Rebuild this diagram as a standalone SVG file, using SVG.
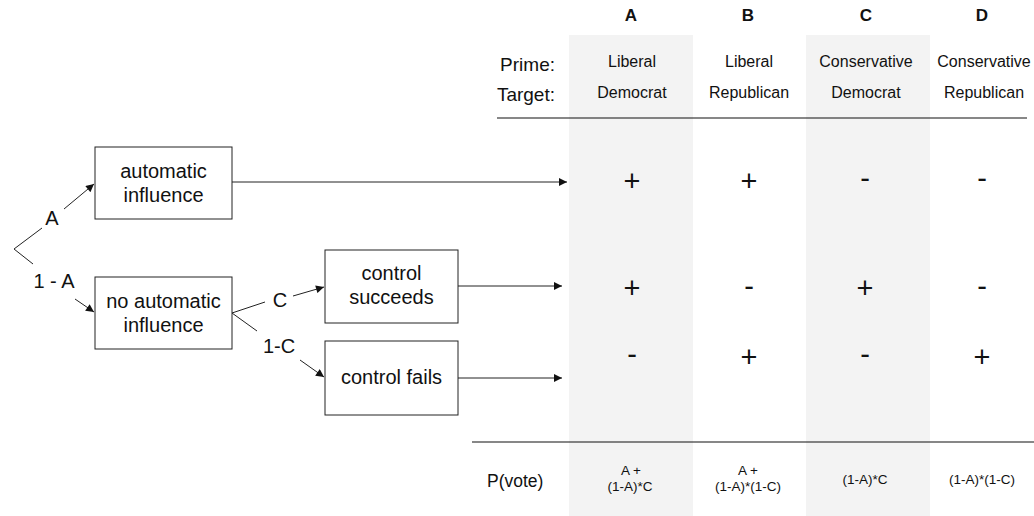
<svg xmlns="http://www.w3.org/2000/svg" width="1034" height="516" viewBox="0 0 1034 516">
  <defs>
    <style>
      text { font-family: "Liberation Sans", Arial, Helvetica, sans-serif; fill: #111; }
      .box { fill: #fff; stroke: #222; stroke-width: 1; }
      .node { font-size: 20px; text-anchor: middle; }
      .lbl { font-size: 20px; text-anchor: middle; }
      .hdr { font-size: 17px; font-weight: bold; text-anchor: middle; }
      .cat { font-size: 16px; text-anchor: middle; }
      .row { font-size: 19px; text-anchor: end; }
      .sign { font-size: 29px; text-anchor: middle; }
      .prob { font-size: 13.5px; text-anchor: middle; }
      .edge { stroke: #222; stroke-width: 1; fill: none; }
      .arrow { stroke: #222; stroke-width: 1; fill: none; marker-end: url(#head); }
      .band { fill: #f3f3f3; }
      .rule { stroke: #111; stroke-width: 1.2; }
    </style>
    <marker id="head" viewBox="0 0 10 10" refX="10" refY="5" markerWidth="11" markerHeight="8" markerUnits="userSpaceOnUse" orient="auto">
      <path d="M0,0 L10,5 L0,10 z" fill="#111"/>
    </marker>
  </defs>

  <rect width="1034" height="516" fill="#fff"/>

  <!-- shaded columns A and C -->
  <g id="bands">
    <rect class="band" x="569" y="35" width="124" height="481"/>
    <rect class="band" x="806" y="35" width="124" height="481"/>
  </g>

  <!-- table header -->
  <g id="header">
    <text class="hdr" x="631" y="21">A</text>
    <text class="hdr" x="748" y="21">B</text>
    <text class="hdr" x="866" y="21">C</text>
    <text class="hdr" x="982" y="21">D</text>
    <text class="row" x="555" y="71">Prime:</text>
    <text class="row" x="555" y="101">Target:</text>
    <text class="cat" x="632" y="67">Liberal</text>
    <text class="cat" x="749" y="67">Liberal</text>
    <text class="cat" x="866" y="67">Conservative</text>
    <text class="cat" x="984" y="67">Conservative</text>
    <text class="cat" x="632" y="98">Democrat</text>
    <text class="cat" x="749" y="98">Republican</text>
    <text class="cat" x="866" y="98">Democrat</text>
    <text class="cat" x="984" y="98">Republican</text>
    <line class="rule" x1="497" y1="118" x2="1027" y2="118"/>
  </g>

  <!-- outcome signs -->
  <g id="signs">
    <text class="sign" x="632" y="191">+</text>
    <text class="sign" x="749" y="191">+</text>
    <text class="sign" x="865" y="188">-</text>
    <text class="sign" x="982" y="188">-</text>
    <text class="sign" x="632" y="298">+</text>
    <text class="sign" x="749" y="296">-</text>
    <text class="sign" x="865" y="298">+</text>
    <text class="sign" x="982" y="296">-</text>
    <text class="sign" x="632" y="364">-</text>
    <text class="sign" x="749" y="367">+</text>
    <text class="sign" x="865" y="364">-</text>
    <text class="sign" x="982" y="367">+</text>
  </g>

  <!-- probabilities -->
  <g id="probabilities">
    <line class="rule" x1="472" y1="442" x2="1034" y2="442"/>
    <text x="487" y="487" style="font-size:17.5px">P(vote)</text>
    <text class="prob" x="631" y="475">A +</text>
    <text class="prob" x="630" y="491">(1-A)*C</text>
    <text class="prob" x="748" y="475">A +</text>
    <text class="prob" x="748" y="491">(1-A)*(1-C)</text>
    <text class="prob" x="865" y="484">(1-A)*C</text>
    <text class="prob" x="982" y="484">(1-A)*(1-C)</text>
  </g>

  <!-- tree nodes -->
  <g id="node-automatic">
    <rect class="box" x="95" y="147" width="137" height="72"/>
    <text class="node" x="163.5" y="178">automatic</text>
    <text class="node" x="163.5" y="202">influence</text>
  </g>
  <g id="node-no-automatic">
    <rect class="box" x="95" y="277" width="137" height="72"/>
    <text class="node" x="163.5" y="308">no automatic</text>
    <text class="node" x="163.5" y="332">influence</text>
  </g>
  <g id="node-succeeds">
    <rect class="box" x="325" y="250" width="133" height="73"/>
    <text class="node" x="391.5" y="280">control</text>
    <text class="node" x="391.5" y="304">succeeds</text>
  </g>
  <g id="node-fails">
    <rect class="box" x="325" y="341" width="133" height="74"/>
    <text class="node" x="391.5" y="384">control fails</text>
  </g>

  <!-- connectors -->
  <g id="connectors">
    <!-- root branch -->
    <polyline class="edge" points="42,228 14,249 33,264"/>
    <text class="lbl" x="52" y="225">A</text>
    <line class="arrow" x1="64" y1="209" x2="94" y2="184"/>
    <text class="lbl" x="54" y="288">1 - A</text>
    <line class="arrow" x1="75" y1="299" x2="94" y2="312"/>

    <!-- control branch -->
    <line class="edge" x1="232" y1="313" x2="265" y2="302"/>
    <text class="lbl" x="280" y="307">C</text>
    <line class="arrow" x1="293" y1="296" x2="324" y2="287"/>
    <line class="edge" x1="232" y1="313" x2="257" y2="331"/>
    <text class="lbl" x="279" y="353">1-C</text>
    <line class="arrow" x1="300" y1="360" x2="324" y2="377"/>

    <!-- into table -->
    <line class="arrow" x1="232" y1="182" x2="567" y2="182"/>
    <line class="arrow" x1="458" y1="286" x2="562" y2="286"/>
    <line class="arrow" x1="458" y1="378" x2="562" y2="378"/>
  </g>
</svg>
